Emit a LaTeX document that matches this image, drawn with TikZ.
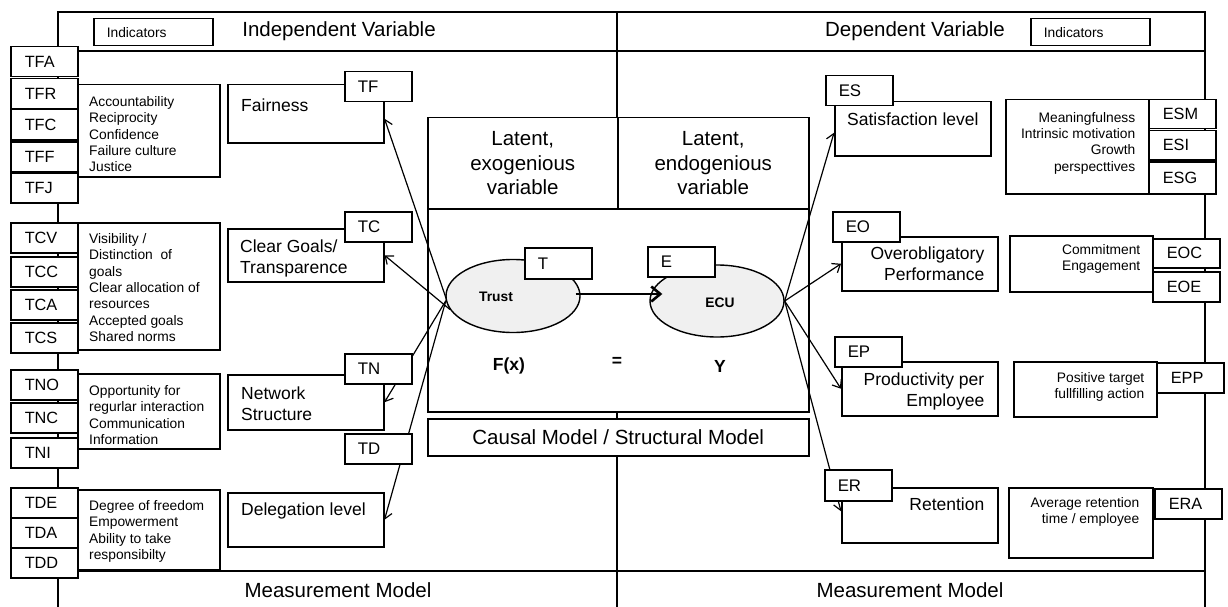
\documentclass[tikz,border=0pt]{standalone}
\usepackage{fontspec}
\setmainfont{Liberation Sans}
\usetikzlibrary{arrows.meta,shapes.geometric,calc}
\pgfdeclarelayer{bg}
\pgfdeclarelayer{mid}
\pgfsetlayers{bg,mid,main}
\newcommand{\fTitle}{\fontsize{20.5}{24.5}\selectfont}
\newcommand{\fCons}{\fontsize{17.5}{20.7}\selectfont}
\newcommand{\fDesc}{\fontsize{13.8}{16.4}\selectfont}
\newcommand{\fCode}{\fontsize{16.3}{18}\selectfont}
\tikzset{
  frameline/.style={line width=1.6pt},
  pbox/.style={draw, line width=1.5pt, fill=white, rectangle, anchor=north west, inner sep=0pt},
  codebox/.style={pbox, inner xsep=14pt, text width=39pt, align=left, minimum height=30pt, font=\fCode},
  ccode/.style={codebox, inner xsep=13pt, text width=41pt, font=\fontsize{16.8}{18}\selectfont},
  cellbox/.style={pbox, minimum width=190pt, minimum height=91pt, align=center, font=\fTitle},
  dtxt/.style={inner sep=0pt, font=\fDesc},
  ctxt/.style={inner sep=0pt, font=\fCons},
  ttxt/.style={inner sep=0pt, font=\fTitle},
  latent/.style={draw, line width=1.4pt, fill=gray!12, ellipse, minimum width=134pt, minimum height=73pt, inner sep=0pt},
  conn/.style={line width=1.2pt, -{Straight Barb[length=7pt,width=11pt]}},
  mainconn/.style={line width=2.6pt, -{Straight Barb[length=9pt,width=15pt]}},
  indbox/.style={pbox, inner xsep=13pt, text width=93pt, align=left, minimum height=27pt, font=\fDesc}
}
\begin{document}
\begin{tikzpicture}[x=1pt,y=-1pt]
\useasboundingbox (0,0) rectangle (1228,607);

% ---------- background: frame and centre box ----------
\begin{pgfonlayer}{bg}
\draw[frameline] (58,607) -- (58,12) -- (1205,12) -- (1205,607);
\draw[frameline] (58,51) -- (1205,51);
\draw[frameline] (58,571) -- (1205,571);
\draw[frameline] (617,12) -- (617,607);
\node[pbox, minimum width=381pt, minimum height=294pt] (centerbox) at (427,117) {};
\node[cellbox] (exo) at (427,117) {Latent,\\exogenious\\variable};
\node[cellbox, minimum width=191pt] (endo) at (617,117) {Latent,\\endogenious\\variable};
\node[pbox, minimum width=381pt, minimum height=37pt, font=\fTitle] (causal) at (427,418) {Causal Model / Structural Model};
\end{pgfonlayer}

% ---------- headers ----------
\node[ttxt, anchor=base] (indep) at (339,37) {Independent Variable};
\node[ttxt, anchor=base] (dep) at (915,37) {Dependent Variable};
\node[ttxt, anchor=base] (mmleft) at (338,597) {Measurement Model};
\node[ttxt, anchor=base] (mmright) at (910,597) {Measurement Model};
\node[indbox] (indl) at (93,18) {Indicators};
\node[indbox] (indr) at (1030,18) {Indicators};

% ---------- left indicator codes ----------
\node[codebox] (tfa) at (10,46) {TFA};
\node[codebox] (tfr) at (10,78) {TFR};
\node[codebox] (tfc) at (10,109) {TFC};
\node[codebox] (tff) at (10,141) {TFF};
\node[codebox] (tfj) at (10,172) {TFJ};
\node[codebox] (tcv) at (10,222) {TCV};
\node[codebox] (tcc) at (10,256) {TCC};
\node[codebox] (tca) at (10,289) {TCA};
\node[codebox] (tcs) at (10,322) {TCS};
\node[codebox] (tno) at (10,369) {TNO};
\node[codebox] (tnc) at (10,402) {TNC};
\node[codebox] (tni) at (10,437) {TNI};
\node[codebox] (tde) at (10,487) {TDE};
\node[codebox] (tda) at (10,517) {TDA};
\node[codebox] (tdd) at (10,547) {TDD};

% ---------- left descriptions ----------
\node[pbox, minimum width=142pt, minimum height=92pt] (fairdesc) at (77,84) {};
\node[pbox, minimum width=142pt, minimum height=127pt] (cleardesc) at (77,222) {};
\node[pbox, minimum width=142pt, minimum height=75pt] (netdesc) at (77,373) {};
\node[pbox, minimum width=142pt, minimum height=80pt] (delegdesc) at (77,489) {};
\node[dtxt, anchor=north west, align=left] (fairdesctxt) at ([shift={(12,12)}]fairdesc.north west) {Accountability\\Reciprocity\\Confidence\\Failure culture\\Justice};
\node[dtxt, anchor=north west, align=left] (cleardesctxt) at ([shift={(12,11)}]cleardesc.north west) {Visibility /\\Distinction\ \ of\\goals\\Clear allocation of\\resources\\Accepted goals\\Shared norms};
\node[dtxt, anchor=north west, align=left] (netdesctxt) at ([shift={(12,12)}]netdesc.north west) {Opportunity for\\regurlar interaction\\Communication\\Information};
\node[dtxt, anchor=north west, align=left] (delegdesctxt) at ([shift={(12,11)}]delegdesc.north west) {Degree of freedom\\Empowerment\\Ability to take\\responsibilty};

% ---------- left constructs ----------
\node[pbox, minimum width=156pt, minimum height=58pt] (fair) at (227,84) {};
\node[pbox, minimum width=156pt, minimum height=53pt] (clear) at (227,228) {};
\node[pbox, minimum width=156pt, minimum height=55pt] (net) at (227,374) {};
\node[pbox, minimum width=156pt, minimum height=54pt] (deleg) at (227,492) {};
\node[ctxt, anchor=north west] (fairtxt) at ([shift={(14,15)}]fair.north west) {Fairness};
\node[ctxt, anchor=north west, align=left] (cleartxt) at ([shift={(13,12)}]clear.north west) {Clear Goals/\\Transparence};
\node[ctxt, anchor=north west, align=left] (nettxt) at ([shift={(14,13)}]net.north west) {Network\\Structure};
\node[ctxt, anchor=north west] (delegtxt) at ([shift={(14,11)}]deleg.north west) {Delegation level};
\node[ccode] (tf) at (344,71) {TF};
\node[ccode] (tc) at (344,211) {TC};
\node[ccode] (tn) at (344,353) {TN};
\node[ccode] (td) at (344,433) {TD};

% ---------- centre ----------
\node[latent] (trust) at (513,296) {};
\node[latent, minimum height=72pt] (ecu) at (717,301) {};
\node[inner sep=0pt, font=\bfseries\fontsize{13.8}{16}\selectfont] (trusttxt) at (496,297) {Trust};
\node[inner sep=0pt, font=\bfseries\fontsize{13.8}{16}\selectfont] (ecutxt) at (720,303) {ECU};
\node[ccode, minimum height=31pt] (tbox) at (524,247) {T};
\node[ccode] (ebox) at (647,246) {E};
\node[inner sep=0pt, font=\bfseries\fontsize{17.5}{20}\selectfont] (fx) at (509,366) {F(x)};
\node[inner sep=0pt, font=\bfseries\fontsize{17.5}{20}\selectfont] (eq) at (617,362) {=};
\node[inner sep=0pt, font=\bfseries\fontsize{17.5}{20}\selectfont] (ylab) at (720,366) {Y};

% ---------- right constructs ----------
\node[pbox, minimum width=156pt, minimum height=54pt] (sat) at (834,101) {};
\node[pbox, minimum width=156pt, minimum height=54pt] (over) at (841,236) {};
\node[pbox, minimum width=156pt, minimum height=54pt] (prod) at (841,361) {};
\node[pbox, minimum width=156pt, minimum height=55pt] (ret) at (841,487) {};
\node[ctxt, anchor=north west] (sattxt) at ([shift={(13,12)}]sat.north west) {Satisfaction level};
\node[ctxt, anchor=north east, align=right] (overtxt) at ([shift={(-14,11)}]over.north east) {Overobligatory\\Performance};
\node[ctxt, anchor=north east, align=right] (prodtxt) at ([shift={(-14,12)}]prod.north east) {Productivity per\\Employee};
\node[ctxt, anchor=north east] (rettxt) at ([shift={(-14,11)}]ret.north east) {Retention};
\node[ccode] (es) at (825,75) {ES};
\node[ccode] (eo) at (832,211) {EO};
\node[ccode] (ep) at (834,336) {EP};
\node[ccode, minimum height=31pt] (er) at (824,469) {ER};

% ---------- right descriptions ----------
\node[pbox, minimum width=143pt, minimum height=94pt] (esdesc) at (1005,99) {};
\node[pbox, minimum width=143pt, minimum height=56pt] (eodesc) at (1009,235) {};
\node[pbox, minimum width=143pt, minimum height=55pt] (epdesc) at (1013,361) {};
\node[pbox, minimum width=144pt, minimum height=70pt] (erdesc) at (1008,487) {};
\node[dtxt, anchor=north east, align=right] (esdesctxt) at ([shift={(-14,13)}]esdesc.north east) {Meaningfulness\\Intrinsic motivation\\Growth\\perspecttives};
\node[dtxt, anchor=north east, align=right] (eodesctxt) at ([shift={(-13,9)}]eodesc.north east) {Commitment\\Engagement};
\node[dtxt, anchor=north east, align=right] (epdesctxt) at ([shift={(-13,11)}]epdesc.north east) {Positive target\\fullfilling action};
\node[dtxt, anchor=north east, align=right] (erdesctxt) at ([shift={(-14,10)}]erdesc.north east) {Average retention\\time / employee};

% ---------- right indicator codes ----------
\node[codebox, minimum height=29pt] (esm) at (1148,99) {ESM};
\node[codebox, minimum height=29pt] (esi) at (1148,130) {ESI};
\node[codebox, minimum height=32pt] (esg) at (1148,161) {ESG};
\node[codebox, minimum height=29pt] (eoc) at (1152,238) {EOC};
\node[codebox] (eoe) at (1152,271) {EOE};
\node[codebox] (epp) at (1156,362) {EPP};
\node[codebox] (era) at (1154,488) {ERA};

% ---------- connectors ----------
\begin{pgfonlayer}{mid}
\draw[conn] (trust.192) -- ([yshift=-5pt]fair.east);
\draw[conn] (trust.192) -- (clear.east);
\draw[conn] (trust.184) -- (net.east);
\draw[conn] (trust.184) -- (deleg.east);
\draw[conn] (ecu.east) -- ([yshift=-4pt]sat.west);
\draw[conn] (ecu.east) -- (over.west);
\draw[conn] (ecu.east) -- (prod.west);
\draw[conn] (ecu.east) -- ([yshift=4pt]ret.west);
\end{pgfonlayer}
\draw[mainconn] ([xshift=-5pt,yshift=2pt]trust.east) -- ([xshift=13pt,yshift=7pt]ecu.west);
\end{tikzpicture}
\end{document}
